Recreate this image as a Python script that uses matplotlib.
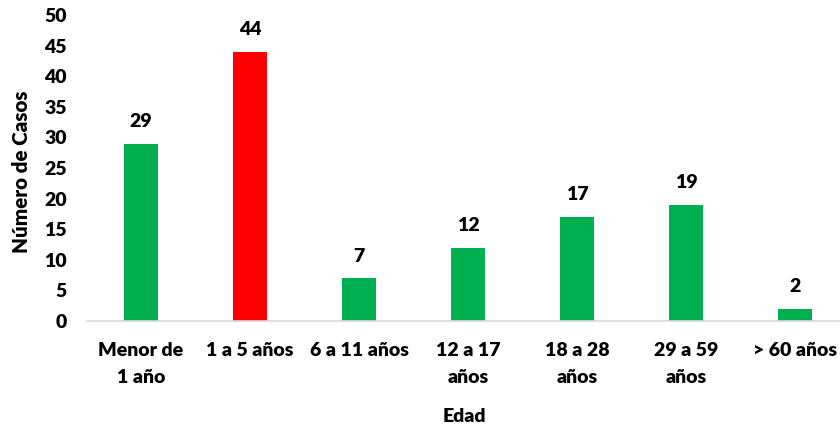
import matplotlib
matplotlib.use('Agg')
import matplotlib.pyplot as plt

categorias = ['Menor de\n1 año', '1 a 5 años', '6 a 11 años', '12 a 17\naños',
              '18 a 28\naños', '29 a 59\naños', '> 60 años']
casos = [29, 44, 7, 12, 17, 19, 2]
colores = ['#00B050', '#FF0000', '#00B050', '#00B050', '#00B050', '#00B050', '#00B050']

plt.rcParams['font.family'] = ['Lato', 'DejaVu Sans']
peso = 'heavy'
tam = 14

fig = plt.figure(figsize=(8.4, 4.34), dpi=100)
# axes extends a bit past the right edge, like the original
ax = fig.add_axes([86.5 / 840, 1 - 321 / 434, 763 / 840, 306 / 434])

x = range(len(casos))
ax.bar(x, casos, width=0.32, color=colores)
for xi, v in zip(x, casos):
    ax.text(xi, v + 2.2, str(v), ha='center', va='bottom', fontsize=tam, fontweight=peso)

ax.set_xlim(-0.5, len(casos) - 0.5)
ax.set_ylim(0, 50)
ax.set_yticks(range(0, 51, 5))
ax.set_xticks(list(x))
ax.set_xticklabels(categorias, fontsize=tam, fontweight=peso, linespacing=1.7)
for t in ax.get_yticklabels():
    t.set_fontweight(peso)
ax.tick_params(axis='y', length=0, labelsize=tam, pad=14)
ax.tick_params(axis='x', length=0, pad=15)

for s in ['top', 'right', 'left']:
    ax.spines[s].set_visible(False)
ax.spines['bottom'].set_color('#D9D9D9')
ax.spines['bottom'].set_linewidth(1.2)

ax.set_ylabel('Número de Casos', fontsize=14.8, fontweight=peso)
ax.set_xlabel('Edad', fontsize=tam, fontweight=peso)
ax.xaxis.set_label_coords((464 - 86.5) / 763, -(416 - 321) / 306)
ax.yaxis.set_label_coords(-(86.5 - 22) / 763, 0.5 - 4 / 306)
ax.yaxis.label.set_va('center')
ax.xaxis.label.set_va('center')

fig.savefig('out.png', dpi=100)
